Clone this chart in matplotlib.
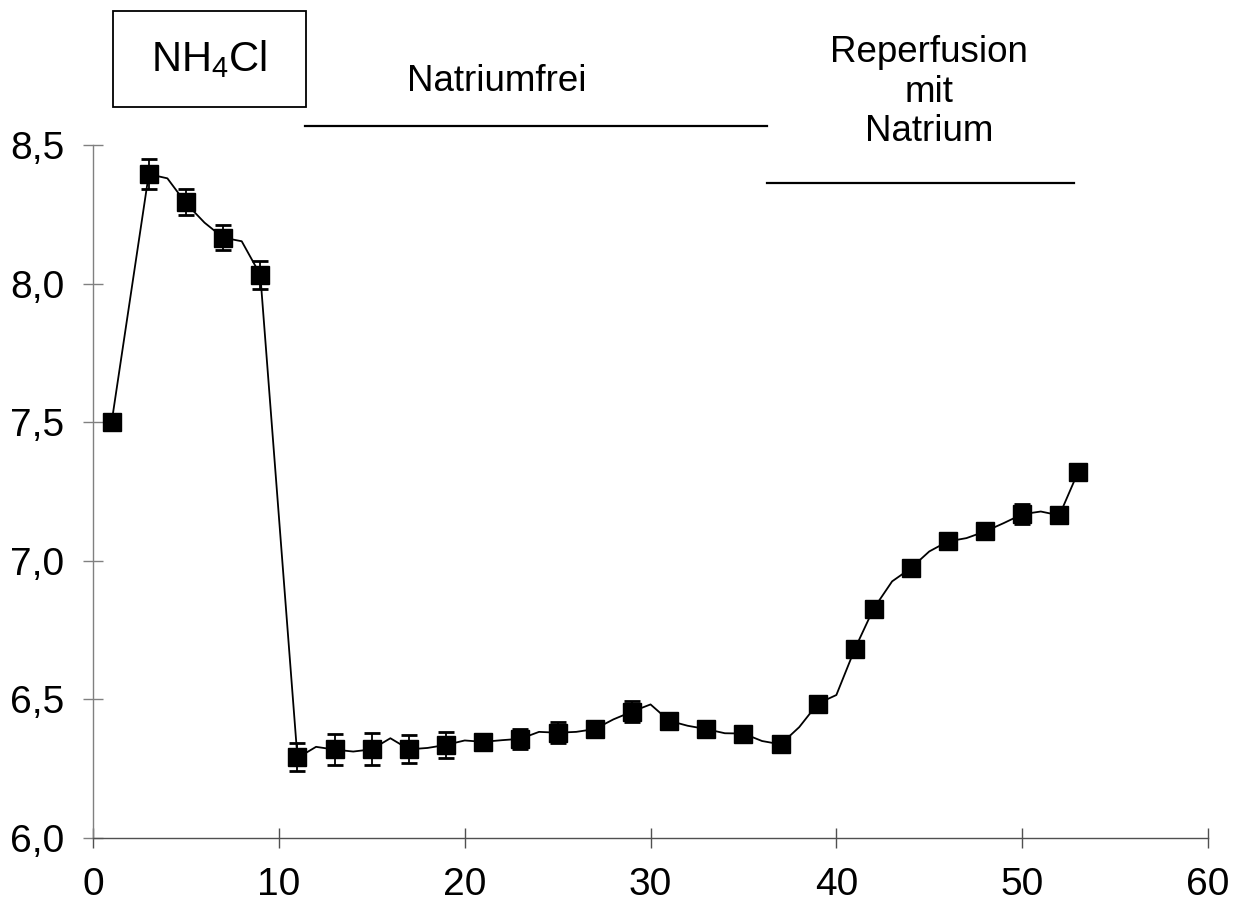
import numpy as np
import matplotlib
matplotlib.use("Agg")
import matplotlib.pyplot as plt
from matplotlib.patches import Rectangle

plt.rcParams['font.family'] = ['Liberation Sans', 'DejaVu Sans']
plt.rcParams['mathtext.fontset'] = 'custom'
plt.rcParams['mathtext.rm'] = 'Liberation Sans'

# pH trace, one value per minute (line)
line_min = [1, 3, 4, 5, 6, 7, 8, 9, 11, 12, 13, 14, 15, 16, 17, 18, 19, 20,
            21, 22, 23, 24, 25, 26, 27, 28, 29, 30, 31, 32, 33, 34, 35, 36,
            37, 38, 39, 40, 41, 42, 43, 44, 45, 46, 47, 48, 49, 50, 51, 52, 53]
line_ph = [7.50, 8.395, 8.38, 8.29, 8.22, 8.166, 8.153, 8.032, 6.289, 6.329,
           6.319, 6.312, 6.32, 6.36, 6.32, 6.325, 6.336, 6.352, 6.347, 6.353,
           6.358, 6.383, 6.38, 6.383, 6.393, 6.428, 6.456, 6.482, 6.423, 6.405,
           6.393, 6.378, 6.377, 6.35, 6.338, 6.40, 6.485, 6.516, 6.683, 6.827,
           6.926, 6.973, 7.034, 7.07, 7.082, 7.106, 7.136, 7.168, 7.178, 7.164,
           7.319]

# marked points with error bars
mark_min = [1, 3, 5, 7, 9, 11, 13, 15, 17, 19, 21, 23, 25, 27, 29, 31, 33, 35,
            37, 39, 41, 42, 44, 46, 48, 50, 52, 53]
mark_ph = [7.50, 8.395, 8.295, 8.166, 8.032, 6.292, 6.32, 6.32, 6.32, 6.336,
           6.347, 6.358, 6.38, 6.393, 6.456, 6.423, 6.393, 6.377, 6.338, 6.485,
           6.683, 6.827, 6.973, 7.07, 7.106, 7.168, 7.164, 7.319]
mark_err = [0.0, 0.055, 0.048, 0.045, 0.05, 0.05, 0.057, 0.058, 0.05, 0.047,
            0.03, 0.037, 0.037, 0.03, 0.037, 0.02, 0.02, 0.02, 0.02, 0.02,
            0.02, 0.02, 0.02, 0.02, 0.02, 0.036, 0.02, 0.02]

x_ticks = [0, 10, 20, 30, 40, 50, 60]
y_ticks = [6.0, 6.5, 7.0, 7.5, 8.0, 8.5]
y_tick_labels = ['6,0', '6,5', '7,0', '7,5', '8,0', '8,5']

fig = plt.figure(figsize=(12.39, 9.05), dpi=100)
ax = fig.add_axes([0.0751, 0.0740, 0.8999, 0.7657])

ax.plot(line_min, line_ph, color='black', lw=1.3, zorder=2, clip_on=False)
ax.errorbar(mark_min, mark_ph, yerr=mark_err, fmt='none', ecolor='black',
            elinewidth=1.3, capsize=5.6, capthick=2.0, zorder=3, clip_on=False)
ax.plot(mark_min, mark_ph, ls='none', marker='s', ms=13.3, mfc='black',
        mec='black', mew=1, zorder=4, clip_on=False)

ax.set_xlim(0, 60)
ax.set_ylim(6.0, 8.5)
ax.set_xticks(x_ticks)
ax.set_yticks(y_ticks)
ax.set_yticklabels(y_tick_labels)

for s in ['top', 'right']:
    ax.spines[s].set_visible(False)
ax.spines['left'].set_color('#808080')
ax.spines['bottom'].set_color('#505050')
for s in ['left', 'bottom']:
    ax.spines[s].set_linewidth(1.0)
ax.tick_params(axis='y', color='#808080')
ax.tick_params(axis='x', color='#505050')
ax.tick_params(direction='inout', length=15, width=1.0,
               labelsize=28, pad=13, labelcolor='black')

# phase annotations
ax.add_patch(Rectangle((1.08, 8.638), 10.38, 0.347, fill=False, ec='black',
                       lw=1.3, clip_on=False))
ax.text(6.27, 8.81, r'NH$_{\mathrm{4}}$Cl', fontsize=30, ha='center',
        va='center')
ax.text(21.7, 8.73, 'Natriumfrei', fontsize=26.5, ha='center', va='center')
ax.plot([11.41, 36.28], [8.5685, 8.5685], color='black', lw=1.6,
        clip_on=False)
ax.text(45.0, 8.69, 'Reperfusion\nmit\nNatrium', fontsize=26.5, ha='center',
        va='center', linespacing=1.17)
ax.plot([36.26, 52.8], [8.362, 8.362], color='black', lw=1.6, clip_on=False)

fig.savefig('out.png', dpi=100)
